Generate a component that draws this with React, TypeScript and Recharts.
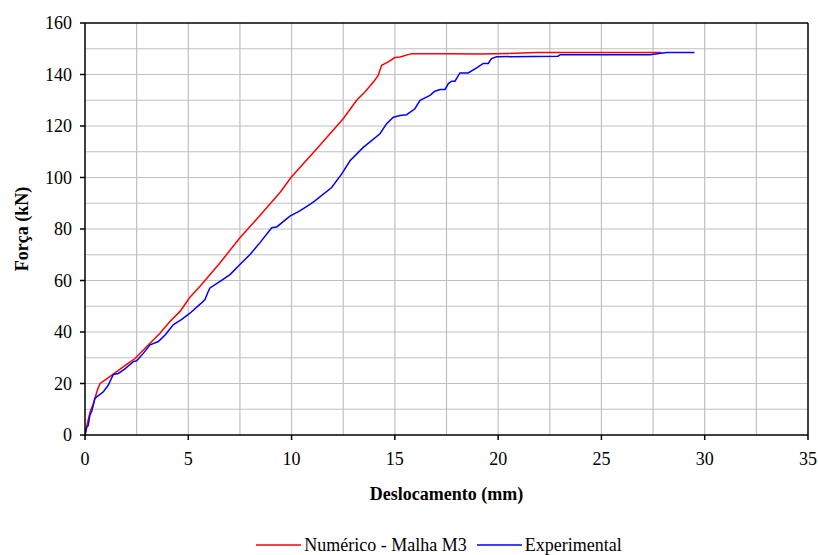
import React from "react";
import { LineChart, Line, XAxis, YAxis, Legend, ReferenceLine } from "recharts";

// Numérico - Malha M3
const numX = [0, 0.1, 0.25, 0.4, 0.48, 0.6, 0.73, 1.0, 1.5, 2.0, 2.42, 3.0, 3.63, 4.1, 4.6, 5.08, 5.57, 6.5, 7.5, 8.5, 9.44, 10.0, 11.2, 12.5, 13.15, 13.55, 14.0, 14.2, 14.28, 14.36, 14.7, 15.0, 15.25, 15.81, 17.5, 19.12, 20.5, 21.87, 25.0, 27.9];
const numY = [0, 4, 9, 12, 14.2, 17.5, 20, 21.5, 24.4, 27.3, 29.7, 34.5, 39.5, 44, 48, 53.5, 57.8, 66.5, 76.6, 85.5, 94.2, 100.3, 111, 122.8, 130, 133.2, 137.5, 139.7, 141.7, 143.6, 145, 146.6, 146.8, 148.1, 148.1, 148.0, 148.2, 148.5, 148.5, 148.5];

// Experimental
const expX = [0, 0.08, 0.15, 0.24, 0.32, 0.4, 0.48, 0.6, 0.89, 1.13, 1.37, 1.61, 1.9, 2.34, 2.5, 2.8, 3.15, 3.55, 3.9, 4.27, 4.7, 5.08, 5.6, 5.81, 5.97, 6.05, 6.54, 7.02, 7.5, 7.99, 8.47, 9.04, 9.28, 9.92, 10.4, 10.89, 11.13, 11.94, 12.42, 12.83, 13.47, 14.28, 14.6, 14.93, 15.25, 15.57, 15.97, 16.22, 16.7, 16.94, 17.19, 17.43, 17.59, 17.75, 17.91, 18.15, 18.55, 18.96, 19.28, 19.52, 19.68, 19.93, 22.9, 23.0, 27.35, 28.15, 29.5];
const expY = [0, 3, 3.5, 7.8, 9, 11.6, 14.2, 15, 16.8, 19.4, 23.5, 23.9, 25.5, 28.5, 28.8, 31.5, 35, 36.3, 39, 42.8, 45, 47.3, 51, 52.6, 55.8, 57.1, 59.7, 62.3, 66.2, 70.1, 74.7, 80.5, 80.8, 85, 87, 89.6, 90.9, 96.1, 101.3, 106.5, 111.7, 117, 120.9, 123.4, 124.1, 124.4, 126.7, 130, 131.9, 133.5, 134.2, 134.2, 136.5, 137.4, 137.4, 140.6, 140.6, 142.6, 144.3, 144.3, 146.2, 146.9, 147.1, 147.7, 147.7, 148.5, 148.5];

const seriesNames = ["Numérico - Malha M3", "Experimental"];
const seriesColors = ["#ff0000", "#0000ff"];

const xTicks = [0, 5, 10, 15, 20, 25, 30, 35];
const yTicks = [0, 20, 40, 60, 80, 100, 120, 140, 160];
const xGrid = [2.5, 5, 7.5, 10, 12.5, 15, 17.5, 20, 22.5, 25, 27.5, 30, 32.5];
const yGrid = [10, 20, 30, 40, 50, 60, 70, 80, 90, 100, 110, 120, 130, 140, 150];

const numData = numX.map((x, i) => ({ x, y: numY[i] }));
const expData = expX.map((x, i) => ({ x, y: expY[i] }));

const font = "'Liberation Serif', 'Times New Roman', Times, serif";

function LegendContent() {
  return (
    <div style={{ display: "flex", justifyContent: "center", alignItems: "center", height: 20, fontFamily: font, fontSize: 18, color: "#000", paddingLeft: 80 }}>
      {seriesNames.map((name, i) => (
        <span key={name} style={{ display: "inline-flex", alignItems: "center", marginRight: 10 }}>
          <svg width={45} height={10}>
            <line x1={0} y1={5} x2={45} y2={5} stroke={seriesColors[i]} strokeWidth={1.6} />
          </svg>
          <span style={{ marginLeft: 3 }}>{name}</span>
        </span>
      ))}
    </div>
  );
}

export default function App() {
  return (
    <div style={{ position: "absolute", left: 0, top: 0 }}>
      <LineChart width={818} height={555} margin={{ top: 23, right: 10, bottom: 0, left: 0 }}>
        {xGrid.map((v) => (
          <ReferenceLine key={"gx" + v} x={v} stroke="#c0c0c0" strokeWidth={1.2} />
        ))}
        {yGrid.map((v) => (
          <ReferenceLine key={"gy" + v} y={v} stroke="#c0c0c0" strokeWidth={1.2} />
        ))}
        <ReferenceLine y={160} stroke="#000" strokeWidth={1.5} />
        <ReferenceLine x={35} stroke="#000" strokeWidth={1.5} />
        <XAxis
          dataKey="x"
          type="number"
          domain={[0, 35]}
          ticks={xTicks}
          allowDataOverflow
          stroke="#000"
          strokeWidth={1.5}
          tickSize={5}
          tickMargin={12}
          height={100}
          tick={{ fill: "#000", fontSize: 18, fontFamily: font }}
          label={{
            content: ({ viewBox }: any) => (
              <text x={viewBox.x + viewBox.width / 2} y={500} textAnchor="middle" fontFamily={font} fontWeight="bold" fontSize={18} fill="#000">
                Deslocamento (mm)
              </text>
            ),
          }}
        />
        <YAxis
          type="number"
          domain={[0, 160]}
          ticks={yTicks}
          width={85}
          stroke="#000"
          strokeWidth={1.5}
          tickSize={5}
          tickMargin={8}
          tick={{ fill: "#000", fontSize: 18, fontFamily: font }}
          label={{
            content: ({ viewBox }: any) => {
              const cy = viewBox.y + viewBox.height / 2;
              return (
                <text x={22} y={cy} transform={`rotate(-90 22 ${cy})`} textAnchor="middle" dominantBaseline="central" fontFamily={font} fontWeight="bold" fontSize={18} fill="#000">
                  Força (kN)
                </text>
              );
            },
          }}
        />
        <Legend verticalAlign="bottom" content={<LegendContent />} />
        <Line data={numData} dataKey="y" name={seriesNames[0]} stroke={seriesColors[0]} strokeWidth={1.5} dot={false} isAnimationActive={false} />
        <Line data={expData} dataKey="y" name={seriesNames[1]} stroke={seriesColors[1]} strokeWidth={1.5} dot={false} isAnimationActive={false} />
      </LineChart>
    </div>
  );
}
